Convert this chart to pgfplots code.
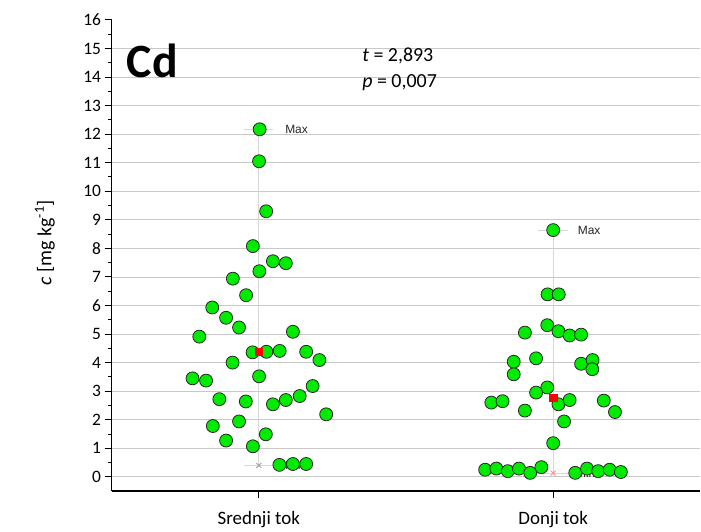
\documentclass[border=0pt]{standalone}
\usepackage{pgfplots}
\pgfplotsset{compat=1.18}
\usepackage{fontspec}
\setmainfont{Carlito}
\newfontfamily\arialfont{Liberation Sans}
\definecolor{ptgreen}{RGB}{0,235,0}
\definecolor{gridgray}{RGB}{200,200,200}
\definecolor{whisk}{RGB}{215,215,215}

\begin{document}
\begin{tikzpicture}
\begin{axis}[
    scale only axis,
    width=591pt, height=473pt,
    xmin=0.5, xmax=2.5,
    ymin=-0.5, ymax=16,
    clip=false,
    axis x line*=bottom, axis y line*=left,
    axis line style={-, line width=1.3pt},
    xtick={1,2},
    xticklabels={Srednji tok, Donji tok},
    ytick={0,...,16},
    minor y tick num=1,
    tick align=outside,
    major tick length=7pt, minor tick length=4pt,
    tick style={black, line width=1pt},
    extra y ticks={0,...,15},
    extra y tick labels={},
    extra y tick style={grid=major},
    major grid style={gridgray, line width=0.8pt},
    ticklabel style={font=\fontsize{17.5}{20}\selectfont},
    xticklabel style={font=\fontsize{19}{22}\selectfont, yshift=-10pt},
    /pgf/number format/assume math mode=true,
]
% whiskers (min to max)
\addplot[whisk, line width=0.8pt] coordinates {(1,0.40) (1,12.17)};
\addplot[whisk, line width=0.8pt] coordinates {(0.95,12.17) (1.05,12.17)};
\addplot[whisk, line width=0.8pt] coordinates {(0.95,0.40) (1.05,0.40)};
\addplot[whisk, line width=0.8pt] coordinates {(2,0.13) (2,8.64)};
\addplot[whisk, line width=0.8pt] coordinates {(1.95,8.64) (2.05,8.64)};
\addplot[whisk, line width=0.8pt] coordinates {(1.95,0.13) (2.05,0.13)};
% min markers
\addplot[only marks, mark=x, mark size=3.5pt, gray!80, line width=0.8pt] coordinates {(1,0.40)};
\addplot[only marks, mark=x, mark size=3.5pt, red!45, line width=0.8pt] coordinates {(2,0.13)};
% Srednji tok
\addplot[only marks, mark=*, mark size=6.5pt,
    mark options={fill=ptgreen, draw=black!85, line width=0.8pt}] coordinates {
(1.003,12.17) (1.001,11.05) (1.025,9.30) (0.980,8.08) (1.048,7.55) (1.092,7.48)
(1.002,7.20) (0.912,6.94) (0.957,6.36) (0.842,5.93) (0.889,5.57) (0.933,5.23)
(0.798,4.91) (1.116,5.08) (0.979,4.36) (1.026,4.38) (1.071,4.41) (1.161,4.38)
(1.206,4.09) (0.911,4.00) (0.775,3.45) (0.821,3.37) (1.001,3.52) (1.183,3.18)
(0.866,2.72) (0.956,2.64) (1.048,2.54) (1.092,2.69) (1.139,2.83) (1.229,2.19)
(0.844,1.78) (0.933,1.94) (0.889,1.27) (1.024,1.49) (0.980,1.07) (1.070,0.42)
(1.116,0.45) (1.161,0.45)
};
% Donji tok
\addplot[only marks, mark=*, mark size=6.5pt,
    mark options={fill=ptgreen, draw=black!85, line width=0.8pt}] coordinates {
(2.000,8.64) (1.981,6.39) (2.019,6.39) (1.980,5.31) (1.904,5.05) (2.018,5.10)
(2.056,4.95) (2.095,4.98) (1.866,4.03) (1.942,4.15) (2.095,3.96) (2.134,4.09)
(1.866,3.59) (2.133,3.77) (1.980,3.13) (1.942,2.95) (1.790,2.60) (1.828,2.65)
(2.018,2.54) (2.056,2.69) (2.172,2.67) (2.210,2.27) (1.904,2.32) (2.037,1.94)
(2.000,1.18) (1.769,0.25) (1.807,0.29) (1.846,0.20) (1.884,0.29) (1.922,0.14)
(1.960,0.34) (2.075,0.14) (2.115,0.29) (2.153,0.20) (2.192,0.25) (2.230,0.17)
};
% means
\addplot[only marks, mark=square*, mark size=3.6pt, red, mark options={draw=red}]
    coordinates {(1,4.38) (2,2.78)};
% labels
\node[anchor=west, font=\arialfont\fontsize{12}{14}\selectfont, text=black!85] at (axis cs:1.078,12.17) {Max};
\node[anchor=west, font=\arialfont\fontsize{12}{14}\selectfont, text=black!85] at (axis cs:1.078,0.40) {Min};
\node[anchor=west, font=\arialfont\fontsize{12}{14}\selectfont, text=black!85] at (axis cs:2.072,8.64) {Max};
\node[anchor=west, font=\arialfont\fontsize{12}{14}\selectfont, text=black!85] at (axis cs:2.066,0.13) {Min};
\node[anchor=west, font=\bfseries\fontsize{48}{50}\selectfont, inner sep=0pt] at (axis cs:0.551,14.57) {Cd};
\node[anchor=west, font=\fontsize{20}{23}\selectfont, inner sep=0pt] at (axis cs:1.351,14.74) {\textit{t} = 2,893};
\node[anchor=west, font=\fontsize{20}{23}\selectfont, inner sep=0pt] at (axis cs:1.351,13.80) {\textit{p} = 0,007};
\node[rotate=90, anchor=center, font=\fontsize{20}{23}\selectfont] at ([xshift=-67pt]axis cs:0.5,8.2) {\textit{c} [mg kg\textsuperscript{-1}]};
\end{axis}
\path[use as bounding box] (-112pt,-40pt) rectangle (589pt,493pt);
\end{tikzpicture}
\end{document}
